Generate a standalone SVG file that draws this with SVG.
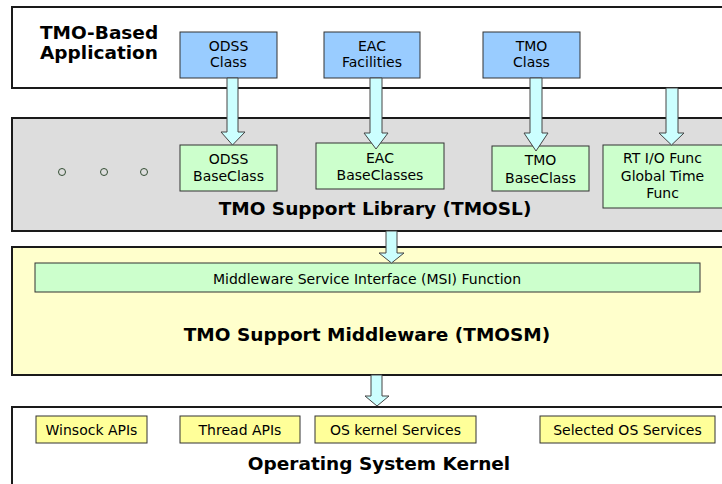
<svg xmlns="http://www.w3.org/2000/svg" width="722" height="484" viewBox="0 0 722 484">
<style>
.layer{stroke:#1a1a1a;stroke-width:2}
.box{stroke:#333;stroke-width:1}
.blue{fill:#99ccff}
.green{fill:#ccffcc}
.yellow{fill:#ffff99}
.t{font-family:"DejaVu Sans",Verdana,sans-serif;font-size:14px;fill:#000;text-anchor:middle}
.b{font-family:"DejaVu Sans","Liberation Sans",sans-serif;font-size:18.5px;font-weight:bold;fill:#000;text-anchor:middle}
.arrow{fill:#ccffff;stroke:#444;stroke-width:1}
.dot{fill:none;stroke:#334d33;stroke-width:1}
</style>
<g id="layer-app">
<rect class="layer" x="12" y="7" width="720" height="81" fill="#ffffff"/>
<text class="b" x="40" y="39" style="text-anchor:start">TMO-Based</text>
<text class="b" x="40" y="59" style="text-anchor:start">Application</text>
</g>
<g id="layer-tmosl">
<rect class="layer" x="12" y="118" width="720" height="113" fill="#dddddd"/>
<circle class="dot" cx="62" cy="172" r="3.5"/>
<circle class="dot" cx="104" cy="172" r="3.5"/>
<circle class="dot" cx="144" cy="172" r="3.5"/>
<text class="b" x="375" y="215">TMO Support Library (TMOSL)</text>
</g>
<g id="layer-tmosm">
<rect class="layer" x="12" y="247" width="720" height="128" fill="#ffffcc"/>
<text class="b" x="367" y="341">TMO Support Middleware (TMOSM)</text>
</g>
<g id="layer-os">
<rect class="layer" x="12" y="407" width="720" height="90" fill="#ffffff"/>
<text class="b" x="379" y="470">Operating System Kernel</text>
</g>
<g id="odss-class">
<rect class="box blue" x="180" y="32" width="97" height="46"/>
<text class="t" x="228.5" y="51">ODSS</text>
<text class="t" x="228.5" y="67">Class</text>
</g>
<g id="eac-facilities">
<rect class="box blue" x="324" y="32" width="96" height="46"/>
<text class="t" x="372" y="51">EAC</text>
<text class="t" x="372" y="67">Facilities</text>
</g>
<g id="tmo-class">
<rect class="box blue" x="483" y="32" width="97" height="46"/>
<text class="t" x="531.5" y="51">TMO</text>
<text class="t" x="531.5" y="67">Class</text>
</g>
<g id="odss-baseclass">
<rect class="box green" x="180" y="145" width="97" height="46"/>
<text class="t" x="228.5" y="164">ODSS</text>
<text class="t" x="228.5" y="181">BaseClass</text>
</g>
<g id="eac-baseclasses">
<rect class="box green" x="316" y="143" width="128" height="46"/>
<text class="t" x="380" y="163">EAC</text>
<text class="t" x="380" y="180">BaseClasses</text>
</g>
<g id="tmo-baseclass">
<rect class="box green" x="492" y="146" width="97" height="45"/>
<text class="t" x="540.5" y="165">TMO</text>
<text class="t" x="540.5" y="183">BaseClass</text>
</g>
<g id="rt-io">
<rect class="box green" x="603" y="145" width="125" height="63"/>
<text class="t" x="662.5" y="163">RT I/O Func</text>
<text class="t" x="662.5" y="181">Global Time</text>
<text class="t" x="662.5" y="198">Func</text>
</g>
<g id="msi">
<rect class="box green" x="35" y="263" width="665" height="29"/>
<text class="t" x="367" y="284">Middleware Service Interface (MSI) Function</text>
</g>
<g id="winsock">
<rect class="box yellow" x="36" y="416" width="111" height="27"/>
<text class="t" x="91.5" y="435">Winsock APIs</text>
</g>
<g id="thread">
<rect class="box yellow" x="180" y="416" width="120" height="27"/>
<text class="t" x="240" y="435">Thread APIs</text>
</g>
<g id="oskernel">
<rect class="box yellow" x="315" y="416" width="161" height="27"/>
<text class="t" x="395.5" y="435">OS kernel Services</text>
</g>
<g id="selected">
<rect class="box yellow" x="540" y="416" width="175" height="27"/>
<text class="t" x="627.5" y="435">Selected OS Services</text>
</g>
<g id="connectors">
<polygon class="arrow" points="227,78 238,78 238,132 245,132 232.5,145 221,132 227,132"/>
<polygon class="arrow" points="370,78 382,78 382,133 388,133 376,149 364,133 370,133"/>
<polygon class="arrow" points="530,78 542,78 542,133 548,133 536,151 524,133 530,133"/>
<polygon class="arrow" points="666,88 678,88 678,133 684,133 671.5,145 659,133 666,133"/>
<polygon class="arrow" points="386,231 397,231 397,253 404,253 391.5,263 379,253 386,253"/>
<polygon class="arrow" points="371,375 382,375 382,396 389,396 377,406 365,396 371,396"/>
</g>
</svg>
